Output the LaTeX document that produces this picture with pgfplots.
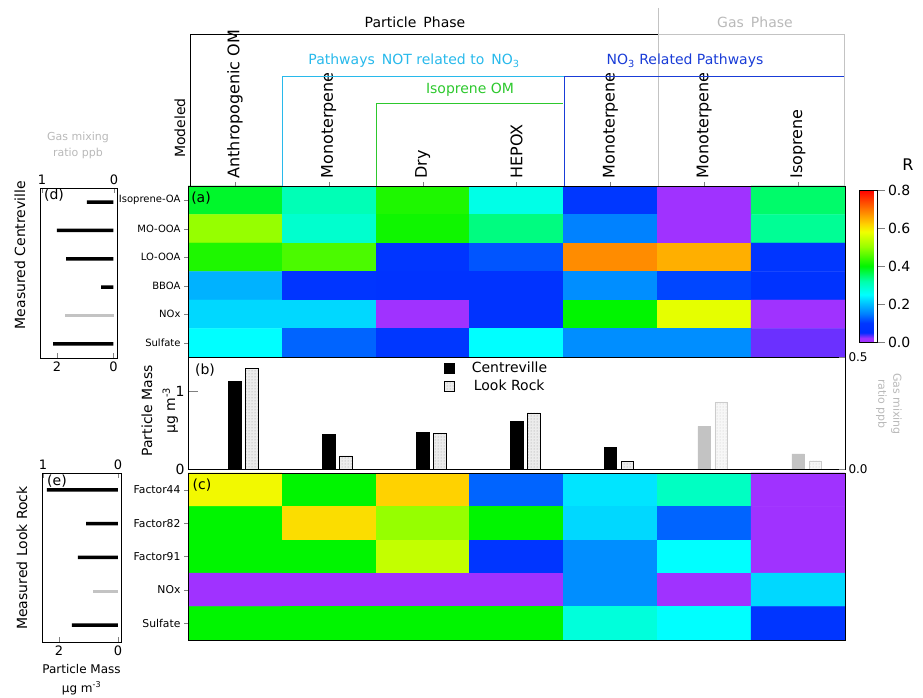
\documentclass[border=0pt]{standalone}
\usepackage{pgfplots}
\pgfplotsset{compat=1.18}
\usepackage{fontspec}
\setmainfont{DejaVu Sans}
\usetikzlibrary{patterns}
\definecolor{cyanL}{RGB}{40,185,235}
\definecolor{blueL}{RGB}{25,60,215}
\definecolor{greenL}{RGB}{45,200,45}
\definecolor{grayL}{RGB}{185,185,185}
\definecolor{grayB}{RGB}{195,195,195}
\newcommand\fs[1]{\fontsize{#1}{#1}\selectfont}
\pgfplotsset{
  /pgf/number format/assume math mode=true,
  colormap={Rmap}{rgb255(0cm)=(160,50,255); rgb255(2cm)=(160,50,255); rgb255(5cm)=(0,45,255);
    rgb255(10cm)=(0,55,255); rgb255(15cm)=(0,130,255); rgb255(20cm)=(0,190,255);
    rgb255(25cm)=(0,255,255); rgb255(32cm)=(0,255,170); rgb255(40cm)=(0,245,0);
    rgb255(50cm)=(150,255,0); rgb255(58cm)=(240,255,0); rgb255(62cm)=(255,210,0);
    rgb255(68cm)=(255,140,0); rgb255(80cm)=(255,0,0)},
}
\begin{document}
\begin{tikzpicture}
\useasboundingbox (0,0) rectangle (923pt,698pt);

% ---------- heatmap (a)
\begin{axis}[
  at={(188pt,512pt)}, anchor=north west,
  scale only axis, width=657pt, height=171pt,
  xmin=-0.5, xmax=6.5, ymin=-0.5, ymax=5.5, y dir=reverse,
  colormap name=Rmap, point meta min=0, point meta max=0.8,
  axis on top,
  xtick={0,...,6},
  xticklabels={Anthropogenic OM,Monoterpene,Dry,HEPOX,Monoterpene,Monoterpene,Isoprene},
  xtick pos=right, xticklabel pos=right,
  xticklabel style={rotate=90, anchor=west, font=\fs{16}},
  ytick={0,...,5},
  yticklabels={Isoprene-OA,MO-OOA,LO-OOA,BBOA,NOx,Sulfate},
  ytick pos=left,
  yticklabel style={font=\fs{10}},
  tick align=outside, major tick length=4pt,
  colorbar,
  colorbar style={
    at={(parent axis.north east)}, anchor=north west, xshift=6pt, yshift=-4pt,
    width=18pt, height=152pt,
    ytick={0,0.2,0.4,0.6,0.8},
    ytick pos=right, yticklabel pos=right,
    ytick align=outside, major tick length=7pt,
    yticklabel style={font=\fs{14}, /pgf/number format/.cd, fixed, fixed zerofill, precision=1},
  },
]
\addplot[matrix plot*, mesh/cols=7, point meta=explicit] table[meta=c] {
x y c
0 0 0.38
1 0 0.31
2 0 0.42
3 0 0.27
4 0 0.10
5 0 0.00
6 0 0.35
0 1 0.50
1 1 0.29
2 1 0.41
3 1 0.34
4 1 0.15
5 1 0.00
6 1 0.33
0 2 0.42
1 2 0.45
2 2 0.09
3 2 0.12
4 2 0.68
5 2 0.65
6 2 0.09
0 3 0.19
1 3 0.09
2 3 0.08
3 3 0.08
4 3 0.16
5 3 0.11
6 3 0.08
0 4 0.22
1 4 0.22
2 4 0.00
3 4 0.08
4 4 0.40
5 4 0.57
6 4 0.00
0 5 0.25
1 5 0.13
2 5 0.10
3 5 0.25
4 5 0.16
5 5 0.16
6 5 0.03
};
\end{axis}

% ---------- bars (b), particle mass axis
\begin{axis}[
  at={(188pt,341pt)}, anchor=north west,
  scale only axis, width=657pt, height=112pt,
  xmin=-0.5, xmax=6.5, ymin=0, ymax=1.436,
  xtick=\empty, ytick={0,1}, ytick pos=left, ytick align=inside, major tick length=10pt,
  yticklabel style={font=\fs{14}},
  ylabel={Particle Mass\\µg m\textsuperscript{-3}},
  ylabel style={font=\fontsize{14}{23}\selectfont, align=center, at={(axis description cs:-0.043,0.52)}, anchor=center},
  legend style={at={(0.39,0.975)}, anchor=north west, draw=none, fill=none, font=\fs{14}, inner sep=0pt, row sep=2pt},
  legend cell align=left,
  legend image code/.code={\draw[#1] (0pt,-5pt) rectangle (10pt,5pt);},
]
\addplot[ybar, bar width=12.5pt, bar shift=0pt, fill=black, draw=black]
  coordinates {(0,1.12) (1,0.44) (2,0.47) (3,0.61) (4,0.28)};
\addlegendentry{\hspace{15pt}Centreville}
\addplot[ybar, bar width=12.5pt, bar shift=17pt, fill=gray!15, draw=black,
  postaction={pattern=dots, pattern color=gray!80}]
  coordinates {(0,1.29) (1,0.17) (2,0.46) (3,0.72) (4,0.10)};
\addlegendentry{\hspace{17pt}Look Rock}
\end{axis}

% ---------- bars (b), gas axis
\begin{axis}[
  at={(188pt,341pt)}, anchor=north west,
  scale only axis, width=657pt, height=112pt,
  xmin=-0.5, xmax=6.5, ymin=0, ymax=0.5,
  axis x line=none, axis y line*=right,
  ytick={0,0.5}, ytick align=inside, major tick length=6pt,
  yticklabel style={font=\fs{12}, /pgf/number format/.cd, fixed, fixed zerofill, precision=1},
]
\addplot[ybar, bar width=12.5pt, bar shift=0pt, fill=grayB, draw=grayB]
  coordinates {(5,0.19) (6,0.067)};
\addplot[ybar, bar width=12.5pt, bar shift=17pt, fill=gray!6, draw=gray!40,
  postaction={pattern=dots, pattern color=gray!45}]
  coordinates {(5,0.30) (6,0.036)};
\end{axis}

% ---------- heatmap (c)
\begin{axis}[
  at={(188pt,225pt)}, anchor=north west,
  scale only axis, width=657pt, height=167pt,
  xmin=-0.5, xmax=6.5, ymin=-0.5, ymax=4.5, y dir=reverse,
  colormap name=Rmap, point meta min=0, point meta max=0.8,
  axis on top,
  xtick=\empty,
  ytick={0,...,4},
  yticklabels={Factor44,Factor82,Factor91,NOx,Sulfate},
  ytick pos=left,
  yticklabel style={font=\fs{10.8}},
  tick align=outside, major tick length=4pt,
]
\addplot[matrix plot*, mesh/cols=7, point meta=explicit] table[meta=c] {
x y c
0 0 0.585
1 0 0.40
2 0 0.62
3 0 0.13
4 0 0.23
5 0 0.30
6 0 0.00
0 1 0.40
1 1 0.61
2 1 0.50
3 1 0.40
4 1 0.22
5 1 0.13
6 1 0.00
0 2 0.40
1 2 0.40
2 2 0.54
3 2 0.09
4 2 0.16
5 2 0.25
6 2 0.00
0 3 0.00
1 3 0.00
2 3 0.00
3 3 0.00
4 3 0.16
5 3 0.00
6 3 0.22
0 4 0.40
1 4 0.40
2 4 0.40
3 4 0.40
4 4 0.28
5 4 0.25
6 4 0.09
};
\end{axis}

% ---------- panel (d)
\begin{axis}[
  at={(40pt,510pt)}, anchor=north west,
  scale only axis, width=77pt, height=170pt,
  xmin=-0.124, xmax=2.60, x dir=reverse, ymin=-0.5, ymax=5.5, y dir=reverse,
  ytick=\empty, xtick={0,2}, xtick pos=left, tick align=inside, major tick length=5pt,
  xticklabel style={font=\fs{13}},
]
\addplot[xbar, bar width=3.5pt, fill=black, draw=none]
  coordinates {(0.94,0) (2.0,1) (1.68,2) (0.44,3) (2.14,5)};
\end{axis}
\begin{axis}[
  at={(40pt,510pt)}, anchor=north west,
  scale only axis, width=77pt, height=170pt,
  xmin=-0.042, xmax=1.028, x dir=reverse, ymin=-0.5, ymax=5.5, y dir=reverse,
  axis x line*=top, axis y line=none,
  xtick={0,1}, tick align=inside, major tick length=5pt,
  xticklabel style={font=\fs{13}},
]
\addplot[xbar, bar width=3.5pt, fill=grayB, draw=none] coordinates {(0.68,4)};
\end{axis}

% ---------- panel (e)
\begin{axis}[
  at={(42pt,225pt)}, anchor=north west,
  scale only axis, width=79pt, height=169pt,
  xmin=-0.102, xmax=2.576, x dir=reverse, ymin=-0.5, ymax=4.5, y dir=reverse,
  ytick=\empty, xtick={0,2}, xtick pos=left, tick align=inside, major tick length=5pt,
  xticklabel style={font=\fs{13}},
  xlabel={Particle Mass\\µg m\textsuperscript{-3}},
  xlabel style={font=\fontsize{12}{19}\selectfont, align=center, at={(axis description cs:0.5,-0.11)}, anchor=north},
]
\addplot[xbar, bar width=3.5pt, fill=black, draw=none]
  coordinates {(2.41,0) (1.08,1) (1.36,2) (1.56,4)};
\end{axis}
\begin{axis}[
  at={(42pt,225pt)}, anchor=north west,
  scale only axis, width=79pt, height=169pt,
  xmin=-0.04, xmax=1.013, x dir=reverse, ymin=-0.5, ymax=4.5, y dir=reverse,
  axis x line*=top, axis y line=none,
  xtick={0,1}, tick align=inside, major tick length=5pt,
  xticklabel style={font=\fs{13}},
]
\addplot[xbar, bar width=3.5pt, fill=grayB, draw=none] coordinates {(0.33,3)};
\end{axis}

% ---------- headers and annotations (pixel coordinates, y down)
\begin{scope}[x=1pt, y=-1pt, yshift=698pt]
  \draw[black, line width=0.9pt] (190,186) -- (190,34) -- (658,34);
  \draw[grayB, line width=0.9pt] (658,8) -- (658,186);
  \draw[grayB, line width=0.9pt] (658,34) -- (844,34) -- (844,186);
  \draw[cyanL, line width=0.9pt] (282,186) -- (282,76) -- (564,76);
  \draw[greenL, line width=0.9pt] (376,186) -- (376,103) -- (563,103);
  \draw[blueL, line width=0.9pt] (564,186) -- (564,76) -- (844,76);
  \node[font=\fs{14}] at (415,22) {Particle\hspace{7pt}Phase};
  \node[font=\fs{14}, text=grayL] at (755,22) {Gas\hspace{7pt}Phase};
  \node[font=\fs{14}, text=cyanL] at (414,61) {Pathways\hspace{7pt}NOT related to\hspace{7pt}NO\textsubscript{3}};
  \node[font=\fs{14}, text=blueL] at (685,61) {NO\textsubscript{3} Related Pathways};
  \node[font=\fs{14}, text=greenL] at (470,90) {Isoprene OM};
  \node[font=\fs{14}, rotate=90] at (180,128) {Modeled};
  \node[font=\fs{16}] at (908,165) {R};
  \node[font=\fs{14}] at (201,198) {(a)};
  \node[font=\fs{14}] at (205,370) {(b)};
  \node[font=\fs{14}] at (202,485) {(c)};
  \node[font=\fs{14}] at (54,195) {(d)};
  \node[font=\fs{14}] at (57,481) {(e)};
  \node[font=\fs{14}, rotate=90] at (20,255) {Measured Centreville};
  \node[font=\fs{14}, rotate=90] at (22,558) {Measured Look Rock};
  \node[font=\fontsize{11}{16}\selectfont, text=grayL, align=center] at (78,145) {Gas mixing\\ratio ppb};
  \node[font=\fontsize{11}{15}\selectfont, text=grayL, align=center, rotate=-90] at (889,404) {Gas mixing\\ratio ppb};
\end{scope}
\end{tikzpicture}
\end{document}
